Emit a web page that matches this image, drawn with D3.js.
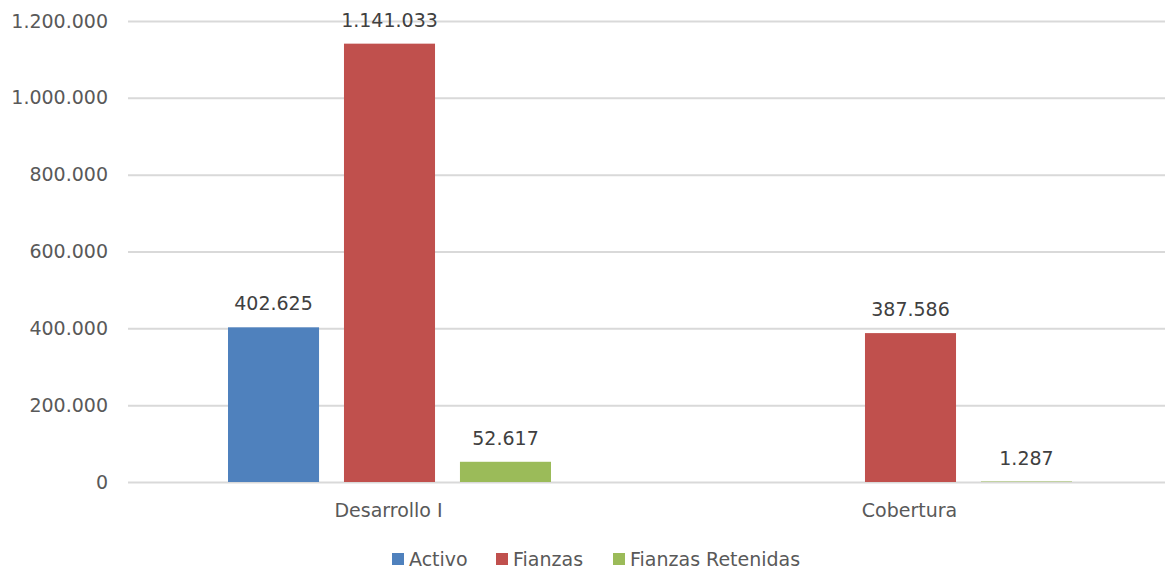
<!DOCTYPE html>
<html>
<head>
<meta charset="utf-8">
<script src="https://cdn.jsdelivr.net/npm/d3@7"></script>
<style>
  body { margin: 0; background: #fff; }
  svg { display: block; font-family: "DejaVu Sans", Verdana, sans-serif; }
</style>
</head>
<body>
<div id="chart"></div>
<script>
// chart data
const categories = ["Desarrollo I", "Cobertura"]
const seriesNames = ["Activo", "Fianzas", "Fianzas Retenidas"]
const activo = [402625, null]
const fianzas = [1141033, 387586]
const fianzasRetenidas = [52617, 1287]
const yTicks = [0, 200000, 400000, 600000, 800000, 1000000, 1200000]
const colors = ["#4F81BD", "#C0504D", "#9BBB59"]

const width = 1165, height = 572
const margin = { top: 21, right: 0, bottom: 90, left: 128 }

const svg = d3.select("#chart").append("svg")
    .attr("width", width)
    .attr("height", height)

// spanish style thousands: 1.200.000
const fmt = d3.formatLocale({ decimal: ",", thousands: ".", grouping: [3], currency: ["", "€"] }).format(",d")

const y = d3.scaleLinear()
    .domain([0, 1200000])
    .range([height - margin.bottom, margin.top])

const x0 = d3.scaleBand()
    .domain(categories)
    .range([margin.left, 1170])

const x1 = d3.scaleBand()
    .domain(seriesNames)
    .range([100, x0.bandwidth() - 98])
    .paddingInner(0.215)

// grid lines + y labels
const yAxis = svg.append("g")
    .attr("transform", "translate(" + margin.left + ",0)")
    .call(d3.axisLeft(y).tickValues(yTicks).tickFormat(fmt).tickSize(-(width - margin.left)).tickPadding(20))
yAxis.select(".domain").remove()
yAxis.selectAll(".tick line").attr("stroke", "#d9d9d9").attr("stroke-width", 2)
yAxis.selectAll(".tick text")
    .attr("fill", "#595959")
    .attr("font-size", "19px")
    .attr("font-family", "DejaVu Sans, Verdana, sans-serif")

// rows of data per category
const rows = categories.map(function (c, i) {
    return {
        cat: c,
        vals: [
            { name: seriesNames[0], val: activo[i] },
            { name: seriesNames[1], val: fianzas[i] },
            { name: seriesNames[2], val: fianzasRetenidas[i] }
        ]
    }
})

const group = svg.selectAll(".grp")
    .data(rows)
    .enter()
    .append("g")
    .attr("class", "grp")
    .attr("transform", function (d) { return "translate(" + x0(d.cat) + ",0)" })

const bars = group.selectAll(".bar")
    .data(function (d) { return d.vals.filter(function (v) { return v.val != null }) })
    .enter()

bars.append("rect")
    .attr("class", "bar")
    .attr("x", function (d) { return x1(d.name) })
    .attr("width", x1.bandwidth())
    .attr("y", function (d) { return y(d.val) })
    .attr("height", function (d) { return y(0) - y(d.val) })
    .attr("fill", function (d) { return colors[seriesNames.indexOf(d.name)] })

bars.append("text")
    .attr("x", function (d) { return x1(d.name) + x1.bandwidth() / 2 })
    .attr("y", function (d) { return y(d.val) - 17 })
    .attr("text-anchor", "middle")
    .attr("font-size", "19px")
    .attr("fill", "#404040")
    .text(function (d) { return fmt(d.val) })

// category labels
svg.selectAll(".cat")
    .data(categories)
    .enter()
    .append("text")
    .attr("x", function (d) { return x0(d) + x0.bandwidth() / 2 })
    .attr("y", 517)
    .attr("text-anchor", "middle")
    .attr("font-size", "19px")
    .attr("fill", "#595959")
    .text(function (d) { return d })

// legend
const legendX = [392, 496, 613]
const legend = svg.selectAll(".leg")
    .data(seriesNames)
    .enter()
    .append("g")
    .attr("transform", function (d, i) { return "translate(" + legendX[i] + ",553)" })

legend.append("rect")
    .attr("width", 12)
    .attr("height", 12)
    .attr("fill", function (d, i) { return colors[i] })

legend.append("text")
    .attr("x", 17)
    .attr("y", 13)
    .attr("font-size", "19px")
    .attr("fill", "#595959")
    .text(function (d) { return d })
</script>
</body>
</html>
